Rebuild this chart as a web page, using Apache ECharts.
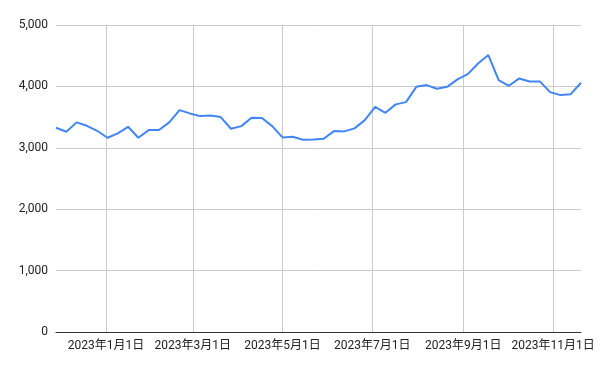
<!DOCTYPE html>
<html><head><meta charset="utf-8">
<script src="https://cdn.jsdelivr.net/npm/echarts@6/dist/echarts.min.js"></script>
<style>html,body{margin:0;padding:0;background:#fff}#c{width:600px;height:371px}</style>
</head><body><div id="c"></div>
<script>
const dates = ['2022-11-28','2022-12-05','2022-12-12','2022-12-19','2022-12-26','2023-01-02','2023-01-09','2023-01-16','2023-01-23','2023-01-30',
'2023-02-06','2023-02-13','2023-02-20','2023-02-27','2023-03-06','2023-03-13','2023-03-20','2023-03-27','2023-04-03','2023-04-10',
'2023-04-17','2023-04-24','2023-05-01','2023-05-08','2023-05-15','2023-05-22','2023-05-29','2023-06-05','2023-06-12','2023-06-19',
'2023-06-26','2023-07-03','2023-07-10','2023-07-17','2023-07-24','2023-07-31','2023-08-07','2023-08-14','2023-08-21','2023-08-28',
'2023-09-04','2023-09-11','2023-09-18','2023-09-25','2023-10-02','2023-10-09','2023-10-16','2023-10-23','2023-10-30','2023-11-06',
'2023-11-13','2023-11-20'];
const values = [3326,3261,3414,3358,3277,3163,3234,3342,3163,3288,
3290,3414,3614,3560,3516,3527,3500,3310,3353,3489,
3484,3353,3169,3179,3132,3137,3147,3272,3267,3316,
3451,3668,3570,3707,3744,3993,4021,3961,3993,4114,
4200,4374,4510,4103,4010,4130,4081,4081,3907,3858,
3874,4059];
const tickDates = ['2023-01-01','2023-03-01','2023-05-01','2023-07-01','2023-09-01','2023-11-01'];
const yTicks = [0,1000,2000,3000,4000,5000];

function ts(s){const p=s.split('-').map(Number);return new Date(p[0],p[1]-1,p[2]).getTime();}
const tickTs = tickDates.map(ts);
const font = 'Roboto, Arial, "Noto Sans CJK JP", sans-serif';
const chart = echarts.init(document.getElementById('c'));
chart.setOption({
  animation:false,
  grid:{left:56,right:19,top:25,bottom:39,containLabel:false},
  xAxis:{
    type:'value',
    min:ts(dates[0]), max:ts(dates[dates.length-1]),
    axisLine:{show:true,onZero:false,lineStyle:{color:'#333',width:1}},
    axisTick:{show:false,customValues:tickTs},
    splitLine:{show:true,lineStyle:{color:'#cccccc',width:1}},
    axisLabel:{customValues:tickTs,color:'#222',fontSize:12,fontFamily:font,margin:8,hideOverlap:false,
      showMinLabel:true,showMaxLabel:true,
      formatter:function(v){const d=new Date(v);return d.getFullYear()+'年'+(d.getMonth()+1)+'月'+d.getDate()+'日';}}
  },
  yAxis:{
    type:'value',min:yTicks[0],max:yTicks[yTicks.length-1],interval:1000,
    axisLine:{show:false},axisTick:{show:false},
    splitLine:{lineStyle:{color:'#cccccc',width:1}},
    axisLabel:{color:'#222',fontSize:12,fontFamily:font,margin:8,
      formatter:function(v){return v.toLocaleString('en-US');}}
  },
  series:[{
    type:'line',
    data:dates.map((d,i)=>[ts(d),values[i]]),
    showSymbol:false,
    lineStyle:{color:'#4285F4',width:2},
    itemStyle:{color:'#4285F4'}
  }]
});
</script></body></html>
